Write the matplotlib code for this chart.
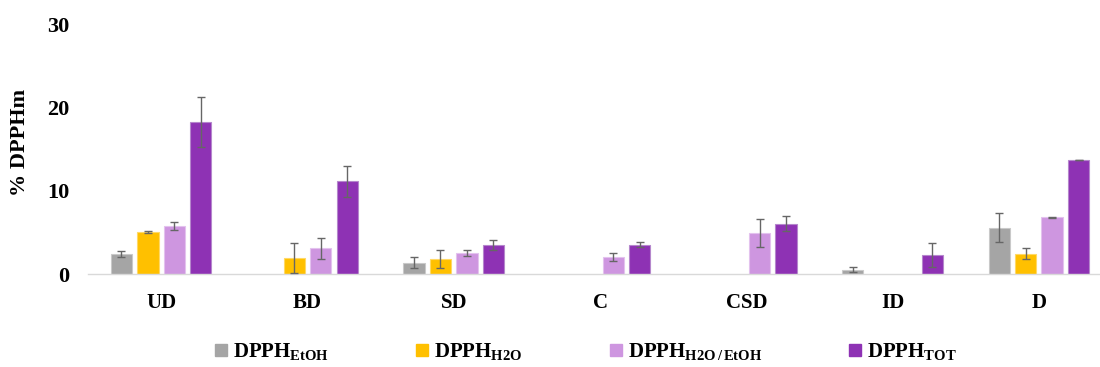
import numpy as np
import matplotlib
matplotlib.use("Agg")
import matplotlib.pyplot as plt
from matplotlib.patches import Patch

plt.rcParams['font.family'] = ['Liberation Serif', 'DejaVu Serif']
plt.rcParams['font.weight'] = 'bold'
plt.rcParams['mathtext.fontset'] = 'custom'
plt.rcParams['mathtext.rm'] = 'Liberation Serif:bold'
plt.rcParams['mathtext.bf'] = 'Liberation Serif:bold'
plt.rcParams['mathtext.it'] = 'Liberation Serif:bold'

categories = ["UD", "BD", "SD", "C", "CSD", "ID", "D"]
series_names = [r"DPPH$_{\mathrm{EtOH}}$", r"DPPH$_{\mathrm{H2O}}$",
                r"DPPH$_{\mathrm{H2O\,/\,EtOH}}$", r"DPPH$_{\mathrm{TOT}}$"]
nan = np.nan
etoh = [2.4, nan, 1.36, nan, nan, 0.52, 5.56]
etoh_err = [0.35, nan, 0.66, nan, nan, 0.32, 1.76]
h2o = [5.04, 1.96, 1.8, nan, nan, nan, 2.44]
h2o_err = [0.15, 1.78, 1.12, nan, nan, nan, 0.66]
h2o_etoh = [5.76, 3.12, 2.56, 2.08, 4.88, nan, 6.8]
h2o_etoh_err = [0.48, 1.26, 0.34, 0.46, 1.68, nan, 0.1]
tot = [18.24, 11.16, 3.52, 3.52, 6.04, 2.28, 13.68]
tot_err = [3.0, 1.86, 0.6, 0.32, 0.88, 1.46, 0.05]
yticks = [0, 10, 20, 30]

colors = ["#A5A5A5", "#FFC000", "#CE96E0", "#8E32B4"]
edges = ["#C9C9C9", "#FFD966", "#E3C2EE", "#B587CC"]

values = [etoh, h2o, h2o_etoh, tot]
errors = [etoh_err, h2o_err, h2o_etoh_err, tot_err]

fig = plt.figure(figsize=(11, 3.67), dpi=100)
ax = fig.add_axes([88/1100, 1 - 274/367, (1112 - 88)/1100, 250/367])

x = np.arange(len(categories))
pitch = 0.181
width = 0.145
for i, (v, e) in enumerate(zip(values, errors)):
    pos = x + (i - 1.5) * pitch
    ax.bar(pos, v, width=width, color=colors[i], edgecolor=edges[i], linewidth=0.8, zorder=2)
    ax.errorbar(pos, v, yerr=e, fmt='none', ecolor="#666666", elinewidth=1.0,
                capsize=3, capthick=1.0, zorder=3)

ax.set_xlim(-0.5, len(categories) - 0.5)
ax.set_ylim(0, 30)
ax.set_yticks(yticks)
ax.set_yticklabels([str(t) for t in yticks], fontsize=16, fontweight='bold')
ax.set_xticks(x)
ax.set_xticklabels(categories, fontsize=15, fontweight='bold')
ax.tick_params(axis='y', length=0, pad=13.5)
ax.tick_params(axis='x', length=0, pad=13.5)
for s in ['left', 'right', 'top']:
    ax.spines[s].set_visible(False)
ax.spines['bottom'].set_color("#D9D9D9")
ax.spines['bottom'].set_linewidth(1.0)

fig.text(20/1100, 1 - 142/367, "% DPPHm", rotation=90, ha='center', va='center',
         fontsize=16, fontweight='bold')

handles = [Patch(facecolor=c, edgecolor=c) for c in colors]
fig.legend(handles, series_names, loc='center', bbox_to_anchor=(586/1100, 1 - 352/367),
           ncol=4, frameon=False, handlelength=0.55, handleheight=0.55,
           handletextpad=0.3, columnspacing=4.2, prop={'weight': 'bold', 'size': 15})

fig.savefig("out.png", dpi=100)
